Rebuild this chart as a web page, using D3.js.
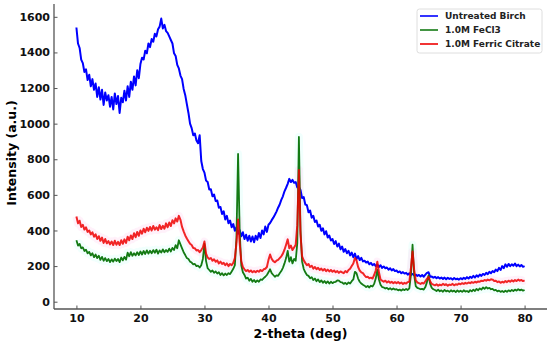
<!DOCTYPE html>
<html lang="en">
<head>
<meta charset="utf-8">
<title>XRD patterns</title>
<script src="https://cdn.jsdelivr.net/npm/d3@7"></script>
<style>
  body { margin: 0; background: #fff; }
  svg text { font-family: "DejaVu Sans", sans-serif; font-weight: bold; }
</style>
</head>
<body>
<div id="chart"></div>
<script>
// scan grid: 10 to 80 deg, 0.25 deg step
var twoTheta = d3.range(10, 80.001, 0.25);

var seriesNames = ["Untreated Birch", "1.0M FeCl3", "1.0M Ferric Citrate"];

// intensities, one row = 5 deg
var birch = [
  1540, 1450, 1425, 1360, 1340, 1290, 1305, 1245, 1275, 1210, 1250, 1190, 1225, 1150, 1205, 1135, 1190, 1105, 1175, 1130,
  1160, 1095, 1150, 1080, 1170, 1110, 1155, 1060, 1145, 1120, 1185, 1130, 1210, 1150, 1235, 1190, 1265, 1215, 1300, 1255,
  1335, 1370, 1360, 1410, 1395, 1450, 1430, 1475, 1460, 1505, 1490, 1530, 1545, 1590, 1535, 1555, 1520, 1510, 1490, 1470,
  1450, 1395, 1380, 1330, 1310, 1270, 1250, 1195, 1160, 1110, 1060, 1000, 975, 935, 945, 905, 890, 935, 790, 745,
  725, 680, 672, 630, 632, 592, 602, 566, 568, 528, 532, 492, 508, 462, 482, 440, 456, 418, 436, 398,
  418, 382, 402, 368, 390, 352, 376, 342, 370, 338, 366, 334, 370, 348, 386, 358, 400, 378, 422, 392,
  432, 442, 458, 472, 488, 506, 528, 546, 572, 592, 620, 640, 662, 690, 672, 684, 668, 672, 642, 644,
  628, 582, 588, 546, 542, 502, 512, 472, 482, 448, 456, 422, 432, 398, 412, 378, 396, 360, 372, 344,
  352, 324, 340, 310, 326, 294, 310, 280, 296, 272, 286, 260, 276, 250, 270, 240, 256, 234, 246, 226,
  230, 220, 225, 210, 218, 205, 212, 200, 208, 195, 205, 190, 198, 188, 192, 180, 188, 176, 183, 172,
  175, 165, 170, 160, 166, 158, 162, 152, 160, 150, 156, 148, 152, 145, 150, 142, 150, 140, 152, 162,
  165, 140, 142, 135, 140, 132, 138, 130, 136, 128, 135, 126, 134, 128, 132, 124, 133, 126, 130, 124,
  132, 126, 134, 128, 138, 130, 140, 134, 145, 136, 148, 140, 152, 145, 156, 150, 162, 155, 168, 160,
  172, 166, 180, 172, 190, 178, 200, 188, 210, 196, 212, 200, 210, 202, 214, 200, 208, 198, 206, 196,
  200
];

var fecl3 = [
  345, 315, 325, 300, 305, 285, 292, 272, 280, 260, 272, 250, 265, 245, 258, 235, 252, 230, 245, 228,
  240, 222, 238, 225, 242, 228, 240, 222, 248, 232, 252, 236, 275, 255, 278, 258, 272, 260, 278, 262,
  282, 265, 285, 268, 288, 270, 286, 272, 290, 275, 292, 270, 288, 276, 294, 278, 290, 280, 298, 282,
  302, 290, 318, 300, 345, 322, 300, 278, 262, 245, 240, 225, 220, 210, 212, 200, 202, 192, 205, 240,
  325, 228, 188, 178, 168, 175, 162, 170, 158, 165, 150, 160, 148, 158, 150, 160, 155, 170, 185, 205,
  360, 830, 400, 205, 165, 150, 130, 135, 118, 128, 112, 122, 110, 120, 112, 125, 122, 132, 140, 150,
  165, 182, 160, 150, 140, 148, 145, 160, 172, 190, 215, 245, 285, 225, 250, 215, 240, 230, 330, 925,
  400, 225, 185, 165, 150, 145, 132, 138, 122, 130, 115, 125, 110, 120, 106, 116, 104, 114, 102, 112,
  104, 110, 112, 120, 118, 110, 108, 100, 106, 98, 108, 102, 115, 125, 168, 160, 130, 112, 102, 95,
  90, 82, 88, 80, 90, 85, 100, 130, 178, 125, 95, 82, 80, 74, 78, 70, 76, 68, 74, 68,
  70, 64, 68, 62, 70, 65, 72, 66, 75, 150, 320, 150, 88, 78, 74, 70, 72, 68, 82, 110,
  148, 100, 78, 70, 66, 60, 68, 58, 64, 56, 66, 58, 62, 55, 64, 57, 62, 54, 63, 56,
  62, 55, 64, 57, 60, 54, 65, 58, 68, 60, 72, 64, 75, 68, 80, 72, 82, 74, 78, 70,
  72, 64, 66, 58, 62, 55, 60, 54, 62, 56, 64, 58, 66, 60, 68, 62, 70, 64, 68, 62,
  66
];

var citrate = [
  478, 440, 455, 420, 432, 405, 418, 392, 400, 378, 390, 365, 378, 352, 368, 342, 360, 330, 352, 328,
  340, 322, 338, 318, 342, 320, 336, 318, 345, 325, 350, 330, 365, 345, 372, 352, 385, 362, 392, 370,
  400, 382, 410, 390, 415, 398, 420, 400, 425, 405, 418, 402, 430, 408, 426, 410, 440, 418, 445, 425,
  458, 440, 468, 450, 482, 460, 420, 395, 372, 355, 340, 325, 318, 302, 300, 288, 290, 278, 290, 305,
  338, 270, 248, 240, 245, 230, 238, 224, 232, 215, 225, 212, 218, 205, 215, 200, 212, 205, 218, 245,
  330, 462, 330, 228, 195, 182, 172, 178, 168, 175, 165, 172, 166, 174, 168, 178, 172, 182, 185, 195,
  235, 265, 240, 228, 222, 230, 235, 245, 255, 270, 292, 320, 350, 300, 315, 290, 305, 320, 430, 740,
  380, 255, 232, 218, 205, 212, 195, 202, 186, 195, 182, 190, 178, 186, 175, 184, 172, 180, 170, 178,
  168, 175, 165, 172, 162, 170, 165, 160, 172, 165, 178, 185, 200, 215, 245, 232, 195, 175, 165, 160,
  148, 138, 140, 132, 135, 130, 150, 175, 225, 165, 125, 118, 112, 118, 108, 115, 106, 112, 104, 110,
  104, 110, 102, 108, 100, 106, 102, 110, 112, 190, 282, 180, 120, 108, 104, 100, 106, 102, 115, 128,
  140, 115, 100, 96, 92, 98, 90, 96, 92, 100, 94, 98, 90, 96, 94, 100, 92, 98, 95, 102,
  98, 104, 100, 106, 102, 108, 104, 110, 106, 112, 108, 114, 112, 118, 116, 122, 118, 124, 120, 126,
  124, 116, 118, 110, 114, 106, 112, 108, 116, 110, 118, 112, 120, 114, 122, 116, 124, 118, 122, 116,
  120
];

var xTicks = [10, 20, 30, 40, 50, 60, 70, 80];
var yTicks = [0, 200, 400, 600, 800, 1000, 1200, 1400, 1600];

var width = 550, height = 344;
var plotLeft = 54, plotRight = 547, plotTop = 4, plotBottom = 309;

var svg = d3.select("#chart").append("svg")
    .attr("width", width)
    .attr("height", height);

var x = d3.scaleLinear().domain([6.5, 83.5]).range([plotLeft, plotRight]);
var y = d3.scaleLinear().domain([-41, 1672]).range([plotBottom, plotTop]);

var series = [
  {name: seriesNames[0], values: birch, color: "#0000ff", halo: null, opacity: 1, w: 2},
  {name: seriesNames[1], values: fecl3, color: "#137a13", halo: "#d6fff8", opacity: 1, w: 1.8},
  {name: seriesNames[2], values: citrate, color: "#ee0000", halo: "#ffd6f2", opacity: 0.85, w: 2}
];

var line = d3.line()
    .x(function(d, i) { return x(twoTheta[i]); })
    .y(function(d) { return y(d); });

// faint colour bleed round the coloured traces
series.forEach(function(s) {
  if (!s.halo) return;
  svg.append("path")
      .attr("d", line(s.values))
      .attr("fill", "none")
      .attr("stroke", s.halo)
      .attr("stroke-width", 8)
      .attr("stroke-linejoin", "round")
      .attr("opacity", 0.35);
});

series.forEach(function(s) {
  svg.append("path")
      .attr("d", line(s.values))
      .attr("fill", "none")
      .attr("stroke", s.color)
      .attr("stroke-width", s.w)
      .attr("stroke-linejoin", "round")
      .attr("opacity", s.opacity);
});

// axes
var xAxis = d3.axisBottom(x).tickValues(xTicks).tickSize(-3.5).tickPadding(5);
var yAxis = d3.axisLeft(y).tickValues(yTicks).tickSize(-3.5).tickPadding(4)
    .tickFormat(d3.format("d"));

var gx = svg.append("g")
    .attr("transform", "translate(0," + plotBottom + ")")
    .call(xAxis);
gx.select(".domain").remove();
gx.selectAll("text").attr("font-size", 11).attr("fill", "#111");
gx.selectAll("line").attr("stroke", "#555");

var gy = svg.append("g")
    .attr("transform", "translate(" + plotLeft + ",0)")
    .call(yAxis);
gy.select(".domain").remove();
gy.selectAll("text").attr("font-size", 11).attr("fill", "#111");
gy.selectAll("line").attr("stroke", "#555");

// spines (left and bottom only)
svg.append("line")
    .attr("x1", plotLeft).attr("x2", plotLeft)
    .attr("y1", plotTop).attr("y2", plotBottom)
    .attr("stroke", "#555").attr("stroke-width", 1.3);
svg.append("line")
    .attr("x1", plotLeft).attr("x2", plotRight)
    .attr("y1", plotBottom).attr("y2", plotBottom)
    .attr("stroke", "#555").attr("stroke-width", 1.3);

svg.append("text")
    .attr("x", (plotLeft + plotRight) / 2)
    .attr("y", 338)
    .attr("text-anchor", "middle")
    .attr("font-size", 12.5)
    .text("2-theta (deg)");

svg.append("text")
    .attr("transform", "translate(16," + 153 + ") rotate(-90)")
    .attr("text-anchor", "middle")
    .attr("font-size", 12.5)
    .text("Intensity (a.u.)");

// legend
var legend = svg.append("g").attr("transform", "translate(417,9)");
legend.append("rect")
    .attr("width", 125).attr("height", 44)
    .attr("rx", 2.5)
    .attr("fill", "#fff").attr("fill-opacity", 0.8)
    .attr("stroke", "#d6d6d6").attr("stroke-width", 0.8);

var item = legend.selectAll(".item")
    .data(series)
    .enter().append("g")
    .attr("class", "item")
    .attr("transform", function(d, i) { return "translate(0," + (7 + i * 14) + ")"; });

item.append("line")
    .attr("x1", 3).attr("x2", 21)
    .attr("stroke", function(d) { return d.color; })
    .attr("stroke-width", 1.6);

item.append("text")
    .attr("x", 28)
    .attr("dy", "0.35em")
    .attr("font-size", 9)
    .attr("fill", "#222")
    .text(function(d) { return d.name; });
</script>
</body>
</html>
